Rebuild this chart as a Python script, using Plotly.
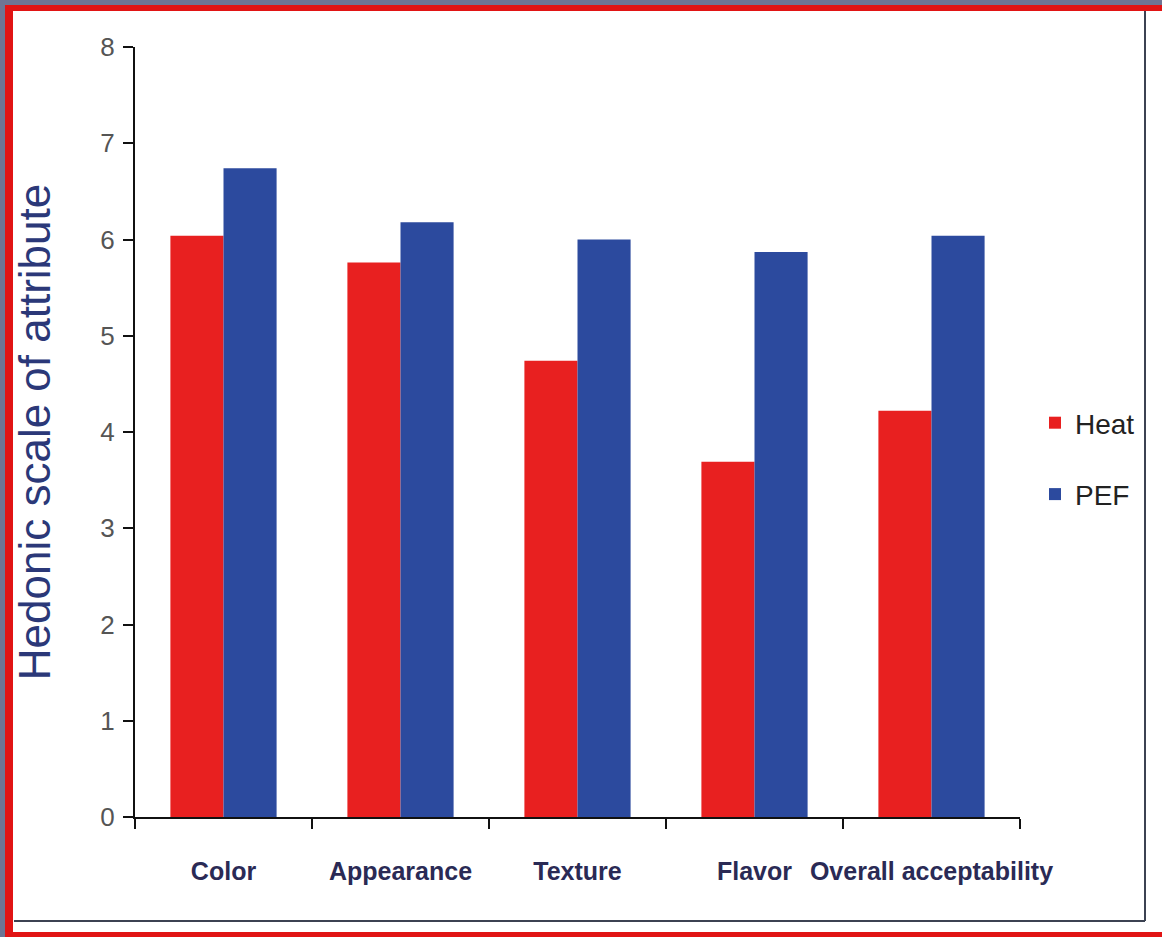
import plotly.graph_objects as go

categories = ["Color", "Appearance", "Texture", "Flavor", "Overall acceptability"]
heat = [6.04, 5.76, 4.74, 3.69, 4.22]
pef = [6.74, 6.18, 6.0, 5.87, 6.04]
series_names = ["Heat", "PEF"]
y_ticks = [0, 1, 2, 3, 4, 5, 6, 7, 8]

W, H = 1162, 937
L, R, T, B = 135, 1020, 47, 817


def fx(x):
    return (x - L) / (R - L)


def fy(y):
    return (B - y) / (B - T)


SANS = "Liberation Sans, Arial, sans-serif"

fig = go.Figure()
fig.add_trace(go.Bar(x=categories, y=heat, name=series_names[0],
                     marker=dict(color="#e82020", line=dict(width=0)),
                     legendgroup="a"))
fig.add_trace(go.Bar(x=categories, y=pef, name=series_names[1],
                     marker=dict(color="#2c4a9e", line=dict(width=0)),
                     legendgroup="b"))

shapes = [
    dict(type="rect", xref="paper", yref="paper", x0=fx(5), x1=fx(1180), y0=fy(5), y1=fy(950),
         fillcolor="#e11414", line=dict(width=0), layer="below"),
    dict(type="rect", xref="paper", yref="paper", x0=fx(13), x1=fx(1180), y0=fy(11), y1=fy(932),
         fillcolor="#ffffff", line=dict(width=0), layer="below"),
    dict(type="line", xref="paper", yref="paper", x0=fx(14), x1=fx(1145), y0=fy(921), y1=fy(921),
         line=dict(color="#3c4252", width=2), layer="below"),
    dict(type="line", xref="paper", yref="paper", x0=fx(1145), x1=fx(1145), y0=fy(11), y1=fy(921),
         line=dict(color="#3c4252", width=2), layer="below"),
]

fig.update_layout(
    width=W, height=H,
    margin=dict(l=L, r=W - R, t=T, b=H - B, autoexpand=False),
    paper_bgcolor="#6e7594",
    plot_bgcolor="rgba(0,0,0,0)",
    barmode="group",
    bargap=0.40,
    bargroupgap=0,
    shapes=shapes,
    showlegend=True,
    legend=dict(x=fx(1035), y=fy(398), xanchor="left", yanchor="top",
                bgcolor="rgba(0,0,0,0)", font=dict(family=SANS, size=28, color="#222222"),
                traceorder="grouped", tracegroupgap=32, itemwidth=30),
    font=dict(family=SANS),
)

fig.update_xaxes(
    showline=True, linecolor="#111111", linewidth=2,
    ticks="outside", tickson="boundaries", ticklen=10, tickwidth=2, tickcolor="#111111",
    tickfont=dict(family=SANS, size=25, color="#2a2a55", weight="bold"),
    tickangle=0,
    ticklabelstandoff=31,
    showgrid=False, zeroline=False, automargin=False,
)
fig.update_yaxes(
    range=[0, 8], tickvals=y_ticks, showline=True, linecolor="#111111", linewidth=2,
    ticks="outside", ticklen=10, tickwidth=2, tickcolor="#111111",
    tickfont=dict(family=SANS, size=26, color="#555555"),
    ticklabelstandoff=3,
    showgrid=False, zeroline=False, automargin=False,
    title=dict(text="Hedonic scale of attribute",
               font=dict(family=SANS, size=44, color="#2b3878"),
               standoff=36),
)

fig.write_html("out.html")
